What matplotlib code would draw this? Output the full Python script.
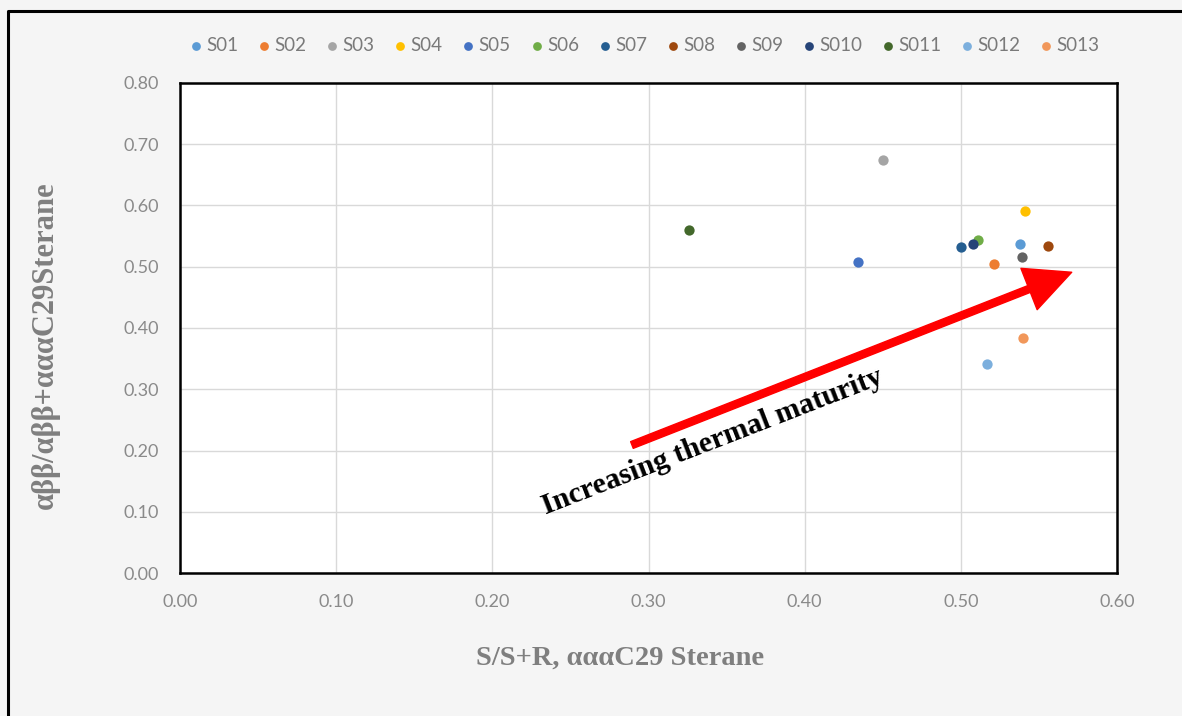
import numpy as np
import matplotlib
matplotlib.use('Agg')
import matplotlib.pyplot as plt
from matplotlib.lines import Line2D

# sample names and values
samples = ['S01', 'S02', 'S03', 'S04', 'S05', 'S06', 'S07', 'S08', 'S09', 'S010', 'S011', 'S012', 'S013']
ss_r = [0.538, 0.521, 0.450, 0.541, 0.434, 0.511, 0.500, 0.556, 0.539, 0.508, 0.326, 0.517, 0.540]
abb = [0.537, 0.504, 0.675, 0.591, 0.508, 0.543, 0.532, 0.534, 0.516, 0.537, 0.560, 0.341, 0.384]
colors = ['#5B9BD5', '#ED7D31', '#A5A5A5', '#FFC000', '#4472C4', '#70AD47', '#255E91',
          '#9E480E', '#636363', '#264478', '#43682B', '#7CAFDD', '#F1975A']
xticks = [0.0, 0.1, 0.2, 0.3, 0.4, 0.5, 0.6]
yticks = [0.0, 0.1, 0.2, 0.3, 0.4, 0.5, 0.6, 0.7, 0.8]

grey = '#7F7F7F'

fig = plt.figure(figsize=(11.82, 7.16), dpi=100, facecolor='#F5F5F5')
ax = fig.add_axes([0.1523, 0.1997, 0.7927, 0.6844])
ax.set_facecolor('white')

for name, x, y, c in zip(samples, ss_r, abb, colors):
    ax.scatter(x, y, s=55, color=c, label=name, zorder=3, linewidths=0)

ax.set_xlim(0, 0.6)
ax.set_ylim(0, 0.8)
ax.set_xticks(xticks)
ax.set_yticks(yticks)
ax.set_xticklabels(['%.2f' % v for v in xticks])
ax.set_yticklabels(['%.2f' % v for v in yticks])
ax.tick_params(length=0, pad=15, labelsize=13, labelcolor='#8A8A8A')
for lab in ax.get_xticklabels() + ax.get_yticklabels():
    lab.set_family('Lato')
ax.grid(True, color='#D9D9D9', linewidth=1.0, zorder=0)
ax.set_axisbelow(True)
for sp in ax.spines.values():
    sp.set_color('black')
    sp.set_linewidth(1.8)

ax.set_xlabel('S/S+R, αααC29 Sterane', family='Liberation Serif', fontweight='bold',
              fontsize=20.5, color=grey)
ax.xaxis.set_label_coords(0.4696, -0.148)
ax.set_ylabel('αββ/αββ+αααC29Sterane', family='Liberation Serif', fontweight='bold',
              fontsize=22, color=grey)
ax.yaxis.set_label_coords(-0.128, 0.465)

# maturity arrow and label
ax.annotate('', xy=(0.571, 0.491), xytext=(0.2894, 0.209),
            arrowprops=dict(arrowstyle='simple,head_length=1.65,head_width=1.6,tail_width=0.26',
                            mutation_scale=20, color='#FF0000', shrinkA=0, shrinkB=0), zorder=4)
ax.text(0.3426, 0.203, 'Increasing thermal maturity', rotation=21.2, rotation_mode='anchor',
        ha='center', va='baseline', family='Liberation Serif', fontweight='bold',
        fontsize=21.5, color='black', zorder=5)

leg = fig.legend(loc='center', bbox_to_anchor=(0.546, 0.937), ncol=13, frameon=False,
                 handlelength=0.5, handletextpad=0.3, columnspacing=1.12, borderpad=0,
                 prop={'family': 'Lato', 'size': 13.5}, scatterpoints=1, markerscale=0.85)
for t in leg.get_texts():
    t.set_color('#7A7A7A')

# outer frame (left and top edges visible)
fig.add_artist(Line2D([8 / 1182, 8 / 1182, 1.0], [0.0, 1 - 11 / 716, 1 - 11 / 716],
                      transform=fig.transFigure, color='black', linewidth=2.2))

fig.savefig('out.png', dpi=100, facecolor=fig.get_facecolor())
